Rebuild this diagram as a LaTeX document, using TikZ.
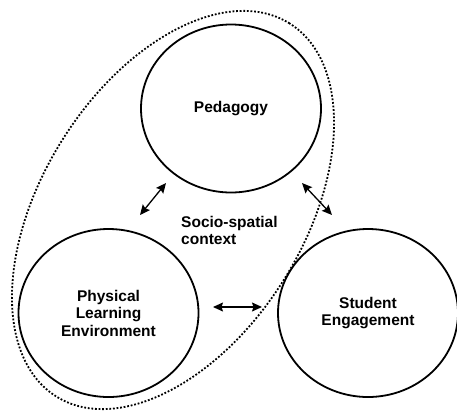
\documentclass[tikz,border=0pt]{standalone}
\usepackage{fontspec}
\setmainfont{Liberation Sans}
\usetikzlibrary{positioning}
\usetikzlibrary{shapes}
\usetikzlibrary{arrows.meta}

\begin{document}
\begin{tikzpicture}[x = 1pt, y = -1pt,
    circ/.style = {ellipse, draw, line width = 1.8pt, minimum width = 180pt, minimum height = 168pt,
        inner sep = 0pt, align = center, font = \fontsize{15.5}{17.5}\selectfont\bfseries},
    link/.style = {{Stealth[length = 10pt, width = 9pt, inset = 1.5pt]}-{Stealth[length = 10pt, width = 9pt, inset = 1.5pt]},
        line width = 1.3pt}]
    \useasboundingbox (0,0) rectangle (457,410);
    % nodes %
    \node[circ] (ped) at (231,108.5) {Pedagogy};
    \node[circ] (phys) at (108.5,313) {Physical\\Learning\\Environment};
    \node[circ] (stud) at (368,313) {Student\\Engagement};
    \node[ellipse, draw, line width = 1.8pt, dash pattern = on 1.8pt off 1.8pt,
        minimum width = 440pt, minimum height = 262pt, rotate = 58] (ctx) at (173,210) {};
    \node[anchor = west, align = left, inner sep = 0pt,
        font = \fontsize{15.5}{17.5}\selectfont\bfseries] (lbl) at (181,230.5) {Socio-spatial\\context};
    % arrow ends %
    \coordinate (p1) at (140,215);
    \coordinate (p2) at (166,183);
    \coordinate (s1) at (302,183);
    \coordinate (s2) at (332,215);
    \coordinate (h1) at (213,307);
    \coordinate (h2) at (262,307);
    % edges %
    \draw[link] (p1) -- (p2);
    \draw[link] (s1) -- (s2);
    \draw[link] (h1) -- (h2);
\end{tikzpicture}
\end{document}
